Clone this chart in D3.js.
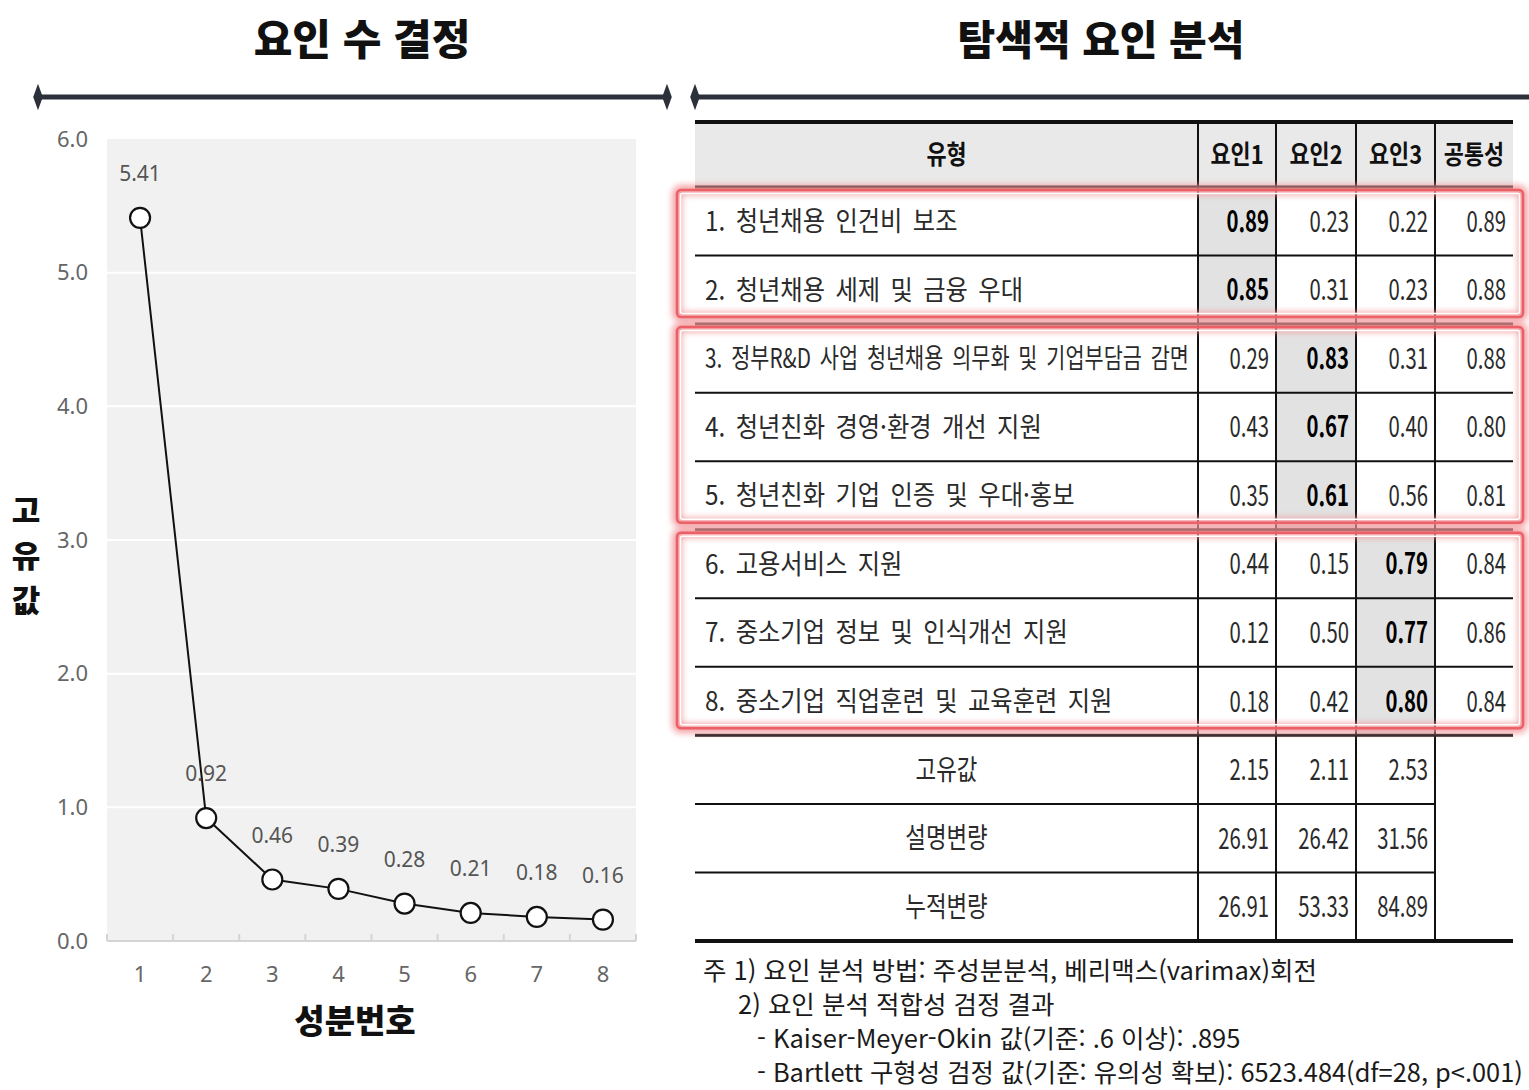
<!DOCTYPE html>
<html lang="ko">
<head>
<meta charset="utf-8">
<title>요인 수 결정 · 탐색적 요인 분석</title>
<script src="https://cdn.jsdelivr.net/npm/d3@7"></script>
<style>
  body { margin: 0; background: #fff; }
  svg text { font-family: "Noto Sans CJK KR", "Noto Sans", sans-serif; }
</style>
</head>
<body>
<svg id="chart" width="1529" height="1090"></svg>
<script>
  // scree plot data
  const components = [1, 2, 3, 4, 5, 6, 7, 8];
  const eigenvalues = [5.41, 0.92, 0.46, 0.39, 0.28, 0.21, 0.18, 0.16];
  const yTicks = [0, 1, 2, 3, 4, 5, 6];

  // factor table data
  const headers = ["유형", "요인1", "요인2", "요인3", "공통성"];
  const items = [
    "1. 청년채용 인건비 보조",
    "2. 청년채용 세제 및 금융 우대",
    "3. 정부R&D 사업 청년채용 의무화 및 기업부담금 감면",
    "4. 청년친화 경영·환경 개선 지원",
    "5. 청년친화 기업 인증 및 우대·홍보",
    "6. 고용서비스 지원",
    "7. 중소기업 정보 및 인식개선 지원",
    "8. 중소기업 직업훈련 및 교육훈련 지원"
  ];
  const factor1 = [0.89, 0.85, 0.29, 0.43, 0.35, 0.44, 0.12, 0.18];
  const factor2 = [0.23, 0.31, 0.83, 0.67, 0.61, 0.15, 0.50, 0.42];
  const factor3 = [0.22, 0.23, 0.31, 0.40, 0.56, 0.79, 0.77, 0.80];
  const communality = [0.89, 0.88, 0.88, 0.80, 0.81, 0.84, 0.86, 0.84];
  const loadingFactor = [0, 0, 1, 1, 1, 2, 2, 2]; // which factor each item loads on
  const summaryLabels = ["고유값", "설명변량", "누적변량"];
  const summaryF1 = [2.15, 26.91, 26.91];
  const summaryF2 = [2.11, 26.42, 53.33];
  const summaryF3 = [2.53, 31.56, 84.89];
  const notes = [
    "주 1) 요인 분석 방법: 주성분분석, 베리맥스(varimax)회전",
    "2) 요인 분석 적합성 검정 결과",
    "- Kaiser-Meyer-Okin 값(기준: .6 이상): .895",
    "- Bartlett 구형성 검정 값(기준: 유의성 확보): 6523.484(df=28, p<.001)"
  ];

  const svg = d3.select("#chart");
  const fmt = d3.format(".2f");

  // squeeze text horizontally around its x (the scanned table uses a narrow font)
  function squeeze(sel, sx) {
    sel.each(function() {
      const t = d3.select(this);
      const x = +t.attr("x");
      t.attr("transform", "translate(" + (x * (1 - sx)) + ",0) scale(" + sx + ",1)");
    });
  }

  const defs = svg.append("defs");
  defs.append("filter").attr("id", "glow")
    .attr("x", "-5%").attr("y", "-10%").attr("width", "110%").attr("height", "120%")
    .append("feGaussianBlur").attr("stdDeviation", 3);

  // ---------- section titles and dividers ----------
  svg.append("text").attr("x", 362).attr("y", 55).attr("text-anchor", "middle")
    .style("font-size", "42px").style("font-weight", 900).attr("fill", "#111")
    .text("요인 수 결정");
  svg.append("text").attr("x", 1101).attr("y", 55).attr("text-anchor", "middle")
    .style("font-size", "41px").style("font-weight", 900).attr("fill", "#111")
    .text("탐색적 요인 분석");

  const diamond = d3.symbol().type(d3.symbolDiamond).size(110);
  [[38, 667], [695, 1540]].forEach(function(d) {
    svg.append("line").attr("x1", d[0]).attr("x2", d[1]).attr("y1", 97).attr("y2", 97)
      .attr("stroke", "#2b303b").attr("stroke-width", 5);
    d.forEach(function(x) {
      svg.append("path").attr("d", diamond())
        .attr("transform", "translate(" + x + ",97) scale(0.85,1.35)")
        .attr("fill", "#2b303b");
    });
  });

  // ---------- scree plot ----------
  const x = d3.scaleBand().domain(components).range([107, 636]);
  const y = d3.scaleLinear().domain([0, 6]).range([941, 139]);

  svg.append("rect").attr("x", 107).attr("y", y(6)).attr("width", 529).attr("height", y(0) - y(6))
    .attr("fill", "#f1f1f1");

  svg.append("g").selectAll("line").data(yTicks.filter(function(d) { return d > 0 && d < 6; }))
    .enter().append("line")
    .attr("x1", 107).attr("x2", 636)
    .attr("y1", function(d) { return y(d); }).attr("y2", function(d) { return y(d); })
    .attr("stroke", "#fff").attr("stroke-width", 2);

  const yAxis = svg.append("g").attr("transform", "translate(88,0)")
    .call(d3.axisLeft(y).tickValues(yTicks).tickSize(0).tickPadding(0).tickFormat(d3.format(".1f")));
  yAxis.select(".domain").remove();
  yAxis.selectAll("text").style("font-size", "22px").attr("fill", "#666")
    .style("font-family", "'Noto Sans', sans-serif");

  // x baseline with edge ticks
  svg.append("line").attr("x1", 107).attr("x2", 636).attr("y1", y(0)).attr("y2", y(0))
    .attr("stroke", "#d4d4d4").attr("stroke-width", 2);
  svg.append("g").selectAll("line").data(d3.range(components.length + 1))
    .enter().append("line")
    .attr("x1", function(i) { return x.range()[0] + i * x.step(); })
    .attr("x2", function(i) { return x.range()[0] + i * x.step(); })
    .attr("y1", y(0) - 7).attr("y2", y(0))
    .attr("stroke", "#d4d4d4").attr("stroke-width", 2);

  const xAxis = svg.append("g").attr("transform", "translate(0," + (y(0) + 33) + ")")
    .call(d3.axisBottom(x).tickSize(0).tickPadding(0));
  xAxis.select(".domain").remove();
  xAxis.selectAll("text").style("font-size", "22px").attr("fill", "#666").attr("dy", "0.35em")
    .style("font-family", "'Noto Sans', sans-serif");

  const pts = components.map(function(c, i) { return { c: c, v: eigenvalues[i] }; });
  const cx = function(d) { return x(d.c) + x.bandwidth() / 2; };

  svg.append("path").datum(pts)
    .attr("d", d3.line().x(cx).y(function(d) { return y(d.v); }))
    .attr("fill", "none").attr("stroke", "#111").attr("stroke-width", 2);

  svg.append("g").selectAll("circle").data(pts).enter().append("circle")
    .attr("cx", cx).attr("cy", function(d) { return y(d.v); }).attr("r", 10)
    .attr("fill", "#fff").attr("stroke", "#111").attr("stroke-width", 2.2);

  svg.append("g").selectAll("text").data(pts).enter().append("text")
    .attr("x", cx).attr("y", function(d) { return y(d.v) - 37; })
    .attr("text-anchor", "middle")
    .style("font-size", "21px").style("font-family", "'Noto Sans', sans-serif")
    .attr("fill", "#555")
    .text(function(d) { return fmt(d.v); });

  svg.append("text").attr("x", 355).attr("y", 1033).attr("text-anchor", "middle")
    .style("font-size", "33px").style("font-weight", 900).attr("fill", "#111")
    .text("성분번호");

  svg.append("g").selectAll("text").data(["고", "유", "값"]).enter().append("text")
    .attr("x", 26).attr("y", function(d, i) { return 522 + i * 45; })
    .attr("text-anchor", "middle")
    .style("font-size", "31px").style("font-weight", 900).attr("fill", "#111")
    .text(function(d) { return d; });

  // ---------- factor table ----------
  const colEdges = [695, 1198, 1276, 1356, 1435, 1513];
  const headerTop = 122, headerBottom = 187;
  const rowIdx = d3.range(items.length + summaryLabels.length);
  const row = d3.scaleBand().domain(rowIdx).range([headerBottom, 941]);
  const rowMid = function(i) { return row(i) + row.bandwidth() / 2; };
  const tableRight = colEdges[colEdges.length - 1];
  const valueCols = [factor1, factor2, factor3, communality];

  const table = svg.append("g");

  table.append("rect").attr("x", colEdges[0]).attr("y", headerTop)
    .attr("width", tableRight - colEdges[0]).attr("height", headerBottom - headerTop)
    .attr("fill", "#e9e9e9");

  // highlighted loading cells
  table.append("g").selectAll("rect").data(items).enter().append("rect")
    .attr("x", function(d, i) { return colEdges[loadingFactor[i] + 1]; })
    .attr("y", function(d, i) { return row(i); })
    .attr("width", function(d, i) { return colEdges[loadingFactor[i] + 2] - colEdges[loadingFactor[i] + 1]; })
    .attr("height", row.bandwidth())
    .attr("fill", "#e2e2e2");

  // horizontal rules
  rowIdx.slice(1).forEach(function(i) {
    const isGroupEdge = i === 2 || i === 5 || i === 8;
    table.append("line")
      .attr("x1", colEdges[0]).attr("x2", i > items.length ? colEdges[4] : tableRight)
      .attr("y1", row(i)).attr("y2", row(i))
      .attr("stroke", "#111").attr("stroke-width", isGroupEdge ? 3 : 2);
  });
  table.append("line").attr("x1", colEdges[0]).attr("x2", tableRight)
    .attr("y1", headerTop).attr("y2", headerTop).attr("stroke", "#111").attr("stroke-width", 4);
  table.append("line").attr("x1", colEdges[0]).attr("x2", tableRight)
    .attr("y1", headerBottom).attr("y2", headerBottom).attr("stroke", "#111").attr("stroke-width", 3);
  table.append("line").attr("x1", colEdges[0]).attr("x2", tableRight)
    .attr("y1", 941).attr("y2", 941).attr("stroke", "#111").attr("stroke-width", 4);

  // vertical rules
  colEdges.slice(1, 5).forEach(function(cxe) {
    table.append("line").attr("x1", cxe).attr("x2", cxe).attr("y1", headerTop).attr("y2", 941)
      .attr("stroke", "#111").attr("stroke-width", 2);
  });

  // header text
  const headerText = table.append("g").selectAll("text").data(headers).enter().append("text")
    .attr("x", function(d, i) { return (colEdges[i] + colEdges[i + 1]) / 2; })
    .attr("y", (headerTop + headerBottom) / 2).attr("dy", "0.36em")
    .attr("text-anchor", "middle")
    .style("font-size", "26px").style("font-weight", 700).attr("fill", "#111")
    .text(function(d) { return d; });
  squeeze(headerText, 0.84);

  // item labels
  table.append("g").selectAll("text").data(items).enter().append("text")
    .attr("x", 705).attr("y", function(d, i) { return rowMid(i); }).attr("dy", "0.36em")
    .style("font-size", "27px").style("word-spacing", "4px").attr("fill", "#2a2a2a")
    .text(function(d) { return d; })
    .each(function() {
      const len = this.getComputedTextLength();
      const sx = Math.min(0.9, 484 / len);
      d3.select(this).call(squeeze, sx);
    });

  // loadings
  valueCols.forEach(function(vals, c) {
    const t = table.append("g").selectAll("text").data(vals).enter().append("text")
      .attr("x", colEdges[c + 2] - 7)
      .attr("y", function(d, i) { return rowMid(i); }).attr("dy", "0.36em")
      .attr("text-anchor", "end")
      .style("font-size", "29px")
      .style("font-weight", function(d, i) { return loadingFactor[i] === c ? 700 : 400; })
      .attr("fill", function(d, i) { return loadingFactor[i] === c ? "#000" : "#2a2a2a"; })
      .text(function(d) { return fmt(d); });
    squeeze(t, 0.7);
  });

  // summary rows
  const sumLab = table.append("g").selectAll("text").data(summaryLabels).enter().append("text")
    .attr("x", (colEdges[0] + colEdges[1]) / 2)
    .attr("y", function(d, i) { return rowMid(items.length + i); }).attr("dy", "0.36em")
    .attr("text-anchor", "middle")
    .style("font-size", "28px").attr("fill", "#2a2a2a")
    .text(function(d) { return d; });
  squeeze(sumLab, 0.8);

  [summaryF1, summaryF2, summaryF3].forEach(function(vals, c) {
    const t = table.append("g").selectAll("text").data(vals).enter().append("text")
      .attr("x", colEdges[c + 2] - 7)
      .attr("y", function(d, i) { return rowMid(items.length + i); }).attr("dy", "0.36em")
      .attr("text-anchor", "end")
      .style("font-size", "29px").attr("fill", "#2a2a2a")
      .text(function(d) { return fmt(d); });
    squeeze(t, 0.7);
  });

  // red group boxes
  const groupSpans = [[0, 1], [2, 4], [5, 7]];
  const boxes = table.append("g");
  groupSpans.forEach(function(g) {
    const top = row(g[0]) + 3;
    const bottom = row(g[1]) + row.bandwidth() - 7;
    boxes.append("rect").attr("x", 677).attr("y", top).attr("width", 846).attr("height", bottom - top)
      .attr("rx", 4).attr("fill", "none").attr("stroke", "#f29499").attr("stroke-width", 10)
      .attr("opacity", 0.85).attr("filter", "url(#glow)");
    boxes.append("rect").attr("x", 677).attr("y", top).attr("width", 846).attr("height", bottom - top)
      .attr("rx", 4).attr("fill", "none").attr("stroke", "#ec5f66").attr("stroke-width", 2.5);
    boxes.append("rect").attr("x", 680.5).attr("y", top + 3.5).attr("width", 839).attr("height", bottom - top - 7)
      .attr("rx", 2).attr("fill", "none").attr("stroke", "#fff").attr("stroke-width", 1.5);
  });

  // notes
  const noteX = [703, 738, 757, 757];
  svg.append("g").selectAll("text").data(notes).enter().append("text")
    .attr("x", function(d, i) { return noteX[i]; })
    .attr("y", function(d, i) { return 980 + i * 34; })
    .style("font-size", "25px").attr("fill", "#1a1a1a")
    .text(function(d) { return d; })
    .each(function(d, i) {
      // the last note runs to the right edge of the page
      const len = this.getComputedTextLength();
      const sx = i === 3 ? Math.min(1.02, 766 / len) : 1.02;
      d3.select(this).call(squeeze, sx);
    });
</script>
</body>
</html>
